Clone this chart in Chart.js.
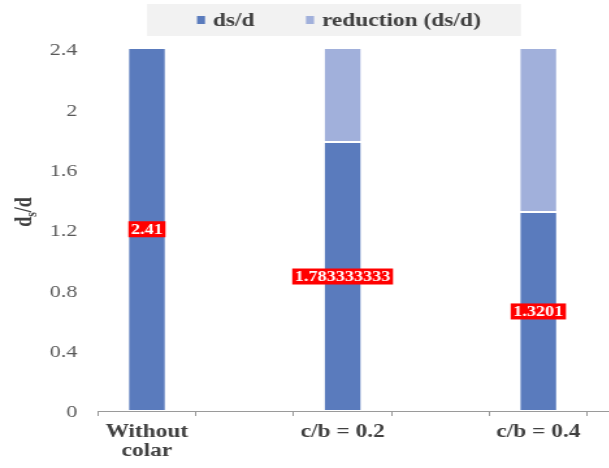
<!DOCTYPE html>
<html>
<head>
<meta charset="utf-8">
<script src="https://cdn.jsdelivr.net/npm/chart.js@4/dist/chart.umd.min.js"></script>
<style>
  html, body { margin: 0; padding: 0; background: #ffffff; overflow: hidden; width: 609px; height: 468px; }
  #wrap { position: absolute; left: 0; top: 0; transform: scaleX(1.3); transform-origin: 0 0; }
  canvas { display: block; }
</style>
</head>
<body>
<div id="wrap"><canvas id="c" width="530" height="468"></canvas></div>
<script>
// Scour depth ratio per collar configuration (blank slots keep the Excel-style spacing)
const categories = [['Without', 'colar'], '', 'c/b = 0.2', '', 'c/b = 0.4', ''];
const seriesNames = ['ds/d', 'reduction (ds/d)'];
const dsValues = [2.41, null, 1.783333333, null, 1.3201, null];
const reductionValues = [0, null, 0.626666667, null, 1.0899, null];
const yTickValues = [0, 0.4, 0.8, 1.2, 1.6, 2, 2.4];

const SERIF = '"Liberation Serif", "Times New Roman", serif';
const DARK = '#5a7bbd';
const LIGHT = '#a1b0db';
const SX = 1.3; // horizontal stretch applied to the canvas

// Red value tags centred on the ds/d segments
const valueTags = {
  id: 'valueTags',
  afterDatasetsDraw(chart) {
    const ctx = chart.ctx;
    const meta = chart.getDatasetMeta(0);
    ctx.save();
    ctx.font = 'bold 14px ' + SERIF;
    ctx.textAlign = 'center';
    ctx.textBaseline = 'middle';
    meta.data.forEach((el, i) => {
      const v = dsValues[i];
      if (v === null || v === undefined) return;
      const txt = String(v);
      const w = ctx.measureText(txt).width + 4;
      const h = 16;
      const cx = el.x;
      const cy = (el.y + el.base) / 2;
      ctx.fillStyle = '#ff0000';
      ctx.fillRect(cx - w / 2, cy - h / 2, w, h);
      ctx.fillStyle = '#ffffff';
      ctx.fillText(txt, cx, cy + 1);
    });
    ctx.restore();
  }
};

// Legend strip and the rotated y-axis title with subscript
const decorations = {
  id: 'decorations',
  afterDraw(chart) {
    const ctx = chart.ctx;
    ctx.save();
    // legend background
    ctx.fillStyle = '#f2f2f2';
    ctx.fillRect(147 / SX, 4, (521 - 147) / SX, 32);
    const colors = [DARK, LIGHT];
    const boxX = [197 / SX, 306 / SX];
    ctx.font = 'bold 18px ' + SERIF;
    ctx.textBaseline = 'middle';
    ctx.textAlign = 'left';
    seriesNames.forEach((name, i) => {
      ctx.fillStyle = colors[i];
      ctx.fillRect(boxX[i], 16, 8 / SX, 8);
      ctx.fillStyle = '#404040';
      ctx.fillText(name, boxX[i] + 16 / SX, 21);
    });

    // y-axis title: d_s/d
    ctx.translate(24 / SX, 212);
    ctx.rotate(-Math.PI / 2);
    ctx.fillStyle = '#404040';
    ctx.textBaseline = 'alphabetic';
    const big = 'bold 18px ' + SERIF;
    const small = 'bold 12px ' + SERIF;
    ctx.font = big; const w1 = ctx.measureText('d').width;
    ctx.font = small; const w2 = ctx.measureText('s').width;
    ctx.font = big; const w3 = ctx.measureText('/d').width;
    let x = -(w1 + w2 + w3) / 2;
    const base = 6;
    ctx.font = big; ctx.fillText('d', x, base); x += w1;
    ctx.font = small; ctx.fillText('s', x, base + 4); x += w2;
    ctx.font = big; ctx.fillText('/d', x, base);
    ctx.restore();
  }
};

new Chart(document.getElementById('c'), {
  type: 'bar',
  data: {
    labels: categories,
    datasets: [
      {
        label: seriesNames[0],
        data: dsValues,
        backgroundColor: DARK,
        borderColor: 'rgba(255,255,255,0.55)',
        borderWidth: 1,
        borderSkipped: false
      },
      {
        label: seriesNames[1],
        data: reductionValues,
        backgroundColor: LIGHT,
        borderColor: 'rgba(255,255,255,0.55)',
        borderWidth: 1,
        borderSkipped: false
      }
    ]
  },
  options: {
    responsive: false,
    animation: false,
    devicePixelRatio: 1,
    layout: { padding: { top: 49, right: 3, left: 0, bottom: 0 } },
    datasets: { bar: { barPercentage: 0.39, categoryPercentage: 1, skipNull: true } },
    plugins: {
      legend: { display: false },
      tooltip: { enabled: false }
    },
    scales: {
      x: {
        stacked: true,
        offset: true,
        grid: {
          offset: true,
          drawOnChartArea: false,
          drawTicks: true,
          tickLength: 5,
          color: '#9a9a9a',
          lineWidth: 1
        },
        border: { display: true, color: '#9a9a9a', width: 1 },
        ticks: {
          autoSkip: false,
          maxRotation: 0,
          minRotation: 0,
          padding: 6,
          color: '#404040',
          font: { family: SERIF, size: 18, weight: 'bold', lineHeight: 1.1 }
        },
        afterFit(scale) { scale.height = 57; }
      },
      y: {
        stacked: true,
        min: 0,
        max: 2.4,
        grid: { display: false, drawTicks: false },
        border: { display: false },
        afterBuildTicks(scale) { scale.ticks = yTickValues.map(v => ({ value: v })); },
        ticks: {
          padding: 16,
          labelOffset: 2,
          color: '#595959',
          font: { family: SERIF, size: 17 },
          callback: (v) => String(v)
        },
        afterFit(scale) { scale.width = 98 / SX; }
      }
    }
  },
  plugins: [valueTags, decorations]
});
</script>
</body>
</html>
